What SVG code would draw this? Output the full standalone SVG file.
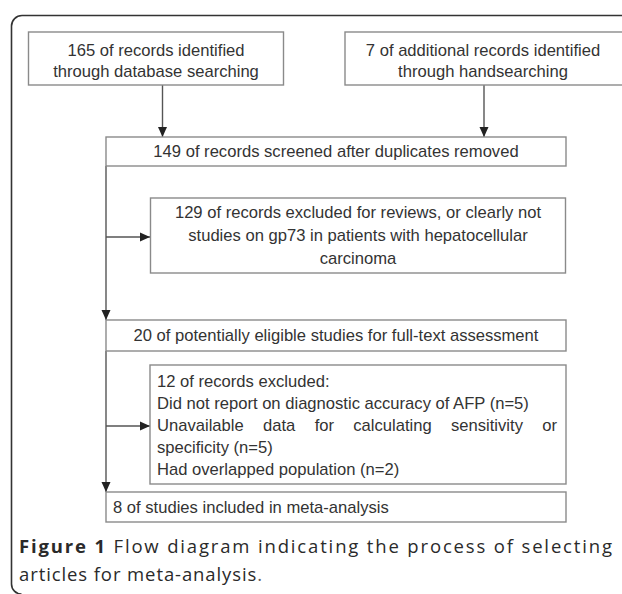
<svg xmlns="http://www.w3.org/2000/svg" width="622" height="594" viewBox="0 0 622 594">
<style>
.box{fill:#fff;stroke:#8a8a8a;stroke-width:1.4}
.t{font-family:"Liberation Sans",Arial,Helvetica,sans-serif;font-size:16.6px;fill:#333}
.c{text-anchor:middle}
.con{stroke:#555;stroke-width:1.4;fill:none}
.cap{font-family:"Open Sans","DejaVu Sans",sans-serif;font-size:18.5px;fill:#2a2a2a}
</style>
<defs>
<marker id="ah" markerUnits="userSpaceOnUse" markerWidth="10" markerHeight="10" viewBox="0 0 10 10" refX="10" refY="5" orient="auto">
<path d="M0,0.5 L10,5 L0,9.5 Z" fill="#222"/>
</marker>
</defs>
<rect width="622" height="594" fill="#fff"/>
<path d="M622,15.5 H22 A10.5,10.5 0 0 0 11.5,26 V584 A10,10 0 0 0 21.5,594" fill="none" stroke="#333" stroke-width="1.6"/>
<g id="connectors">
<line class="con" x1="162.5" y1="85" x2="162.5" y2="137" marker-end="url(#ah)"/>
<line class="con" x1="484" y1="85" x2="484" y2="137" marker-end="url(#ah)"/>
<line class="con" x1="106" y1="166" x2="106" y2="320" marker-end="url(#ah)"/>
<line class="con" x1="106" y1="237" x2="150" y2="237" marker-end="url(#ah)"/>
<line class="con" x1="106" y1="351" x2="106" y2="492" marker-end="url(#ah)"/>
<line class="con" x1="106" y1="426" x2="150" y2="426" marker-end="url(#ah)"/>
</g>
<g id="n1">
<rect class="box" x="28.5" y="32" width="255" height="53"/>
<text class="t c" x="156" y="56">165 of records identified</text>
<text class="t c" x="156" y="76.5">through database searching</text>
</g>
<g id="n2">
<rect class="box" x="345" y="32" width="282" height="53"/>
<text class="t c" x="483" y="56">7 of additional records identified</text>
<text class="t c" x="483" y="76.5">through handsearching</text>
</g>
<g id="n3">
<rect class="box" x="106" y="137" width="460" height="29"/>
<text class="t c" x="336" y="157">149 of records screened after duplicates removed</text>
</g>
<g id="n4">
<rect class="box" x="150.5" y="198" width="415" height="75"/>
<text class="t c" x="358" y="218">129 of records excluded for reviews, or clearly not</text>
<text class="t c" x="358" y="241">studies on gp73 in patients with hepatocellular</text>
<text class="t c" x="358" y="264">carcinoma</text>
</g>
<g id="n5">
<rect class="box" x="106" y="320" width="460" height="31"/>
<text class="t c" x="336" y="341">20 of potentially eligible studies for full-text assessment</text>
</g>
<g id="n6">
<rect class="box" x="150" y="365" width="416" height="119"/>
<text class="t" x="157" y="387">12 of records excluded:</text>
<text class="t" x="157" y="409">Did not report on diagnostic accuracy of AFP (n=5)</text>
<text class="t" x="157" y="431" word-spacing="14.7">Unavailable data for calculating sensitivity or</text>
<text class="t" x="157" y="453">specificity (n=5)</text>
<text class="t" x="157" y="475">Had overlapped population (n=2)</text>
</g>
<g id="n7">
<rect class="box" x="106" y="492" width="460" height="30"/>
<text class="t" x="113" y="513">8 of studies included in meta-analysis</text>
</g>
<g id="caption">
<text class="cap" x="19" y="553" textLength="593" lengthAdjust="spacing"><tspan font-weight="bold">Figure 1</tspan> Flow diagram indicating the process of selecting</text>
<text class="cap" x="19" y="581" letter-spacing="0.9">articles for meta-analysis<tspan fill="#666">.</tspan></text>
</g>
</svg>
